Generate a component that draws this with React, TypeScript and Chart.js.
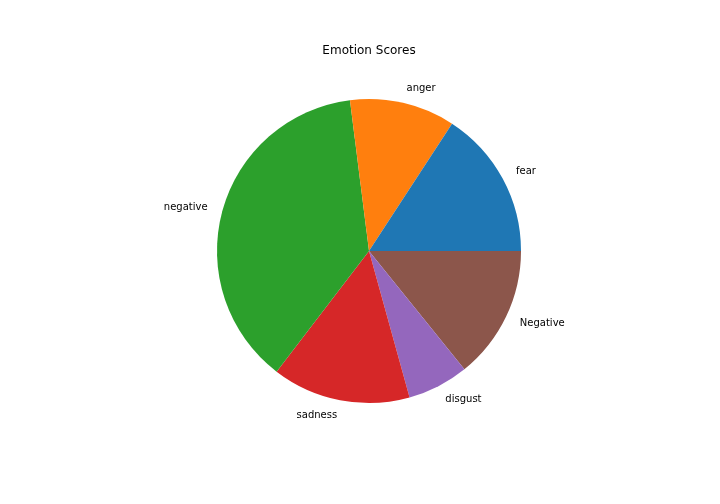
import React, { useEffect, useRef } from "react";
import { Chart, registerables } from "chart.js";

Chart.register(...registerables);

const categories = ["fear", "anger", "negative", "sadness", "disgust", "Negative"];
const scores = [15.8, 11.2, 37.6, 14.7, 6.5, 14.2];
const colors = ["#1f77b4", "#ff7f0e", "#2ca02c", "#d62728", "#9467bd", "#8c564b"];
const titleText = "Emotion Scores";

export default function App() {
  const ref = useRef<HTMLCanvasElement | null>(null);
  useEffect(() => {
    document.body.style.margin = "0";
    const canvas = ref.current;
    if (!canvas) return;
    // matplotlib draws counter-clockwise from 3 o'clock; Chart.js draws clockwise
    const labels = [...categories].reverse();
    const values = [...scores].reverse();
    const bg = [...colors].reverse();

    const labelPlugin = {
      id: "mplLabels",
      afterDraw(chart: any) {
        const ctx = chart.ctx;
        const meta = chart.getDatasetMeta(0);
        ctx.save();
        ctx.fillStyle = "#000";
        ctx.font = "10px 'DejaVu Sans'";
        ctx.textBaseline = "middle";
        meta.data.forEach((arc: any, i: number) => {
          const p = arc.getProps(["x", "y", "startAngle", "endAngle", "outerRadius"], true);
          const mid = (p.startAngle + p.endAngle) / 2;
          const r = p.outerRadius * 1.1;
          const x = p.x + r * Math.cos(mid);
          const y = p.y + r * Math.sin(mid);
          ctx.textAlign = Math.cos(mid) >= 0 ? "left" : "right";
          ctx.fillText(labels[i], x, y);
        });
        const ca = chart.chartArea;
        ctx.font = "12px 'DejaVu Sans'";
        ctx.textAlign = "center";
        ctx.fillText(titleText, (ca.left + ca.right) / 2, 51);
        ctx.restore();
      },
    };

    const chart = new Chart(canvas, {
      type: "pie",
      data: {
        labels,
        datasets: [
          {
            data: values,
            backgroundColor: bg,
            borderWidth: 0,
          },
        ],
      },
      options: {
        responsive: false,
        animation: false,
        rotation: 90,
        layout: { padding: { left: 18, right: 0, top: 99, bottom: 101 } },
        plugins: {
          legend: { display: false },
          tooltip: { enabled: false },
          title: { display: false },
        },
      },
      plugins: [labelPlugin],
    });
    return () => chart.destroy();
  }, []);
  return (
    <div style={{ width: 720, height: 504, background: "#fff" }}>
      <canvas ref={ref} width={720} height={504} style={{ display: "block" }} />
    </div>
  );
}
